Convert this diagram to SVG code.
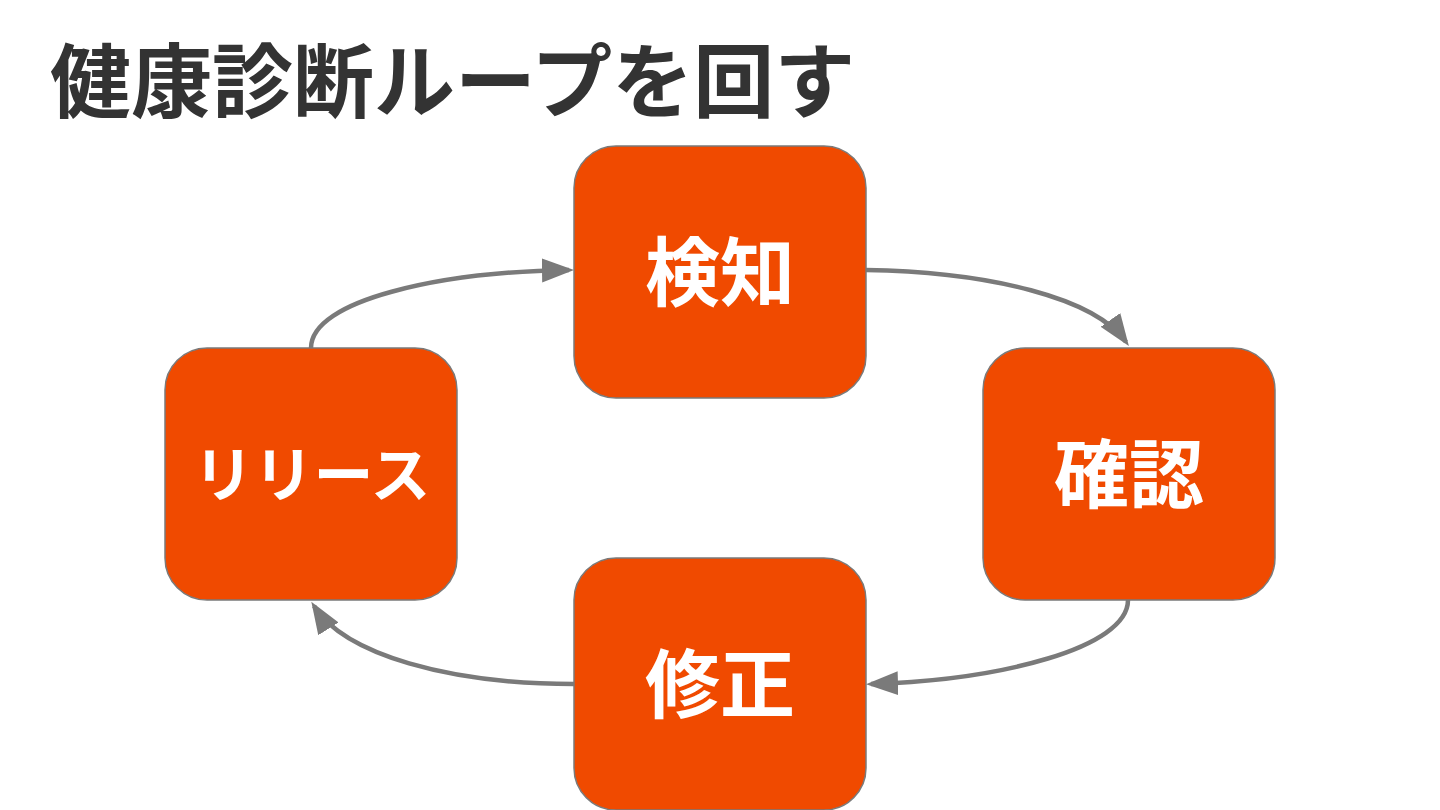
<svg xmlns="http://www.w3.org/2000/svg" width="1440" height="810" viewBox="0 0 1440 810">
<style>
.node rect{fill:#F04A00;stroke:#7a7a7a;stroke-width:1.5}
.node text{fill:#ffffff;font-family:"Noto Sans CJK JP","Noto Sans CJK SC",sans-serif;font-weight:bold;text-anchor:middle}
.title{fill:#333333;font-family:"Noto Sans CJK JP","Noto Sans CJK SC",sans-serif;font-weight:bold;font-size:81px}
.conn path{fill:none;stroke:#7a7a7a;stroke-width:4.5}
</style>
<defs>
<marker id="arrow" markerUnits="userSpaceOnUse" markerWidth="34" markerHeight="26" refX="27" refY="12" orient="auto">
<path d="M0,0 L32,12 L0,24 z" fill="#7a7a7a"/>
</marker>
</defs>
<rect width="1440" height="810" fill="#ffffff"/>
<text class="title" x="50" y="111">健康診断ループを回す</text>
<g class="conn" id="connectors">
<path d="M866,270 C990,272 1095,298 1126,342" marker-end="url(#arrow)"/>
<path d="M1128,600 C1128,648 1000,680 871,684" marker-end="url(#arrow)"/>
<path d="M574,684 C450,684 345,655 314,606" marker-end="url(#arrow)"/>
<path d="M311,348 C311,300 440,272 569,270" marker-end="url(#arrow)"/>
</g>
<g class="node" id="node-detect">
<rect x="574" y="146" width="292" height="252" rx="42"/>
<text x="720" y="300" font-size="75">検知</text>
</g>
<g class="node" id="node-confirm">
<rect x="983" y="348" width="292" height="252" rx="42"/>
<text x="1129" y="502" font-size="75">確認</text>
</g>
<g class="node" id="node-fix">
<rect x="574" y="558" width="292" height="252" rx="42"/>
<text x="720" y="712" font-size="75">修正</text>
</g>
<g class="node" id="node-release">
<rect x="165" y="348" width="292" height="252" rx="42"/>
<text x="312" y="497" font-size="60">リリース</text>
</g>
</svg>
